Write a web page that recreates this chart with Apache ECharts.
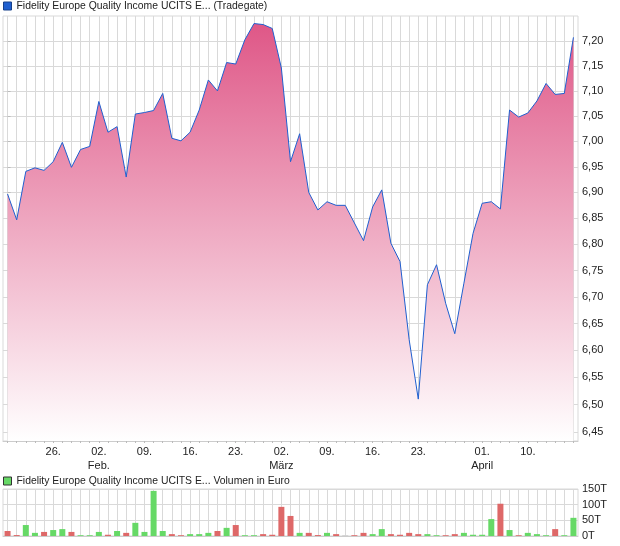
<!DOCTYPE html>
<html><head><meta charset="utf-8">
<script src="https://cdn.jsdelivr.net/npm/echarts@6/dist/echarts.min.js"></script>
<style>html,body{margin:0;padding:0;background:#fff}#c{width:620px;height:546px}</style>
</head><body><div id="c"></div>
<script>
// ---- data ----
const dates = [
 '19.01.','20.01.','21.01.','22.01.','23.01.',
 '26.01.','27.01.','28.01.','29.01.','30.01.',
 '02.02.','03.02.','04.02.','05.02.','06.02.',
 '09.02.','10.02.','11.02.','12.02.','13.02.',
 '16.02.','17.02.','18.02.','19.02.','20.02.',
 '23.02.','24.02.','25.02.','26.02.','27.02.',
 '02.03.','03.03.','04.03.','05.03.','06.03.',
 '09.03.','10.03.','11.03.','12.03.','13.03.',
 '16.03.','17.03.','18.03.','19.03.','20.03.',
 '23.03.','24.03.','25.03.','26.03.','27.03.',
 '30.03.','31.03.','01.04.','02.04.',
 '07.04.','08.04.','09.04.','10.04.',
 '13.04.','14.04.','15.04.','16.04.','17.04.'
];
const closes = [
 6.897,6.847,6.941,6.948,6.943,
 6.960,6.998,6.949,6.984,6.990,
 7.079,7.018,7.029,6.930,7.054,
 7.057,7.061,7.095,7.006,7.001,
 7.018,7.062,7.122,7.100,7.157,
 7.154,7.203,7.236,7.234,7.226,
 7.146,6.960,7.015,6.900,6.866,
 6.882,6.875,6.875,6.841,6.807,
 6.872,6.905,6.802,6.767,6.620,
 6.510,6.723,6.761,6.688,6.631,
 6.726,6.821,6.879,6.882,
 6.868,7.062,7.048,7.056,
 7.080,7.115,7.093,7.095,7.208
];
const previousClose = 6.91;
const volumes = [
 16000,3000,35000,10000,13000,
 19000,22000,13000,2500,2500,
 13000,4000,16000,10000,42000,
 13000,144000,16000,6000,2500,
 6000,6000,10000,16000,26000,
 35000,2500,2500,6000,4000,
 93000,64000,10000,10000,3000,
 10000,6000,2500,2500,10000,
 6000,22000,6000,4000,10000,
 6000,6000,2500,2500,6000,
 10000,4000,4000,54000,
 103000,19000,2500,10000,
 6000,2500,22000,2500,58000
];
const priceTicks = [6.45,6.50,6.55,6.60,6.65,6.70,6.75,6.80,6.85,6.90,6.95,7.00,7.05,7.10,7.15,7.20];
const priceMin = 6.4337, priceMax = 7.2514;
const xLabelIndex = [5,10,15,20,25,30,35,40,45,52,57];
const xLabelText = ['26.','02.\nFeb.','09.','16.','23.','02.\nMärz','09.','16.','23.','01.\nApril','10.'];
const priceName = 'Fidelity Europe Quality Income UCITS E... (Tradegate)';
const volName = 'Fidelity Europe Quality Income UCITS E... Volumen in Euro';

// ---- chart ----
const FONT = 'Liberation Sans, Arial, sans-serif';
const n = closes.length;
const allIdx = closes.map((_, i) => i);
const GREEN = '#66d966', RED = '#de6868', GRAY = '#cfcfcf';
const gridColor = '#d9d9d9';

const volData = volumes.map((v, i) => {
  const prev = i === 0 ? previousClose : closes[i - 1];
  const c = closes[i] > prev ? GREEN : (closes[i] < prev ? RED : GRAY);
  return { value: [i, v], itemStyle: { color: c } };
});

const chart = echarts.init(document.getElementById('c'), null, { renderer: 'canvas' });
const xCommon = {
  type: 'value', min: -0.5, max: n - 0.5,
  axisLine: { show: true, lineStyle: { color: '#cccccc' } },
  splitLine: { show: true, lineStyle: { color: gridColor, width: 1 } }
};
chart.setOption({
  animation: false,
  textStyle: { fontFamily: FONT },
  legend: [
    { left: 3, top: 1, padding: 0, itemWidth: 8, itemHeight: 8, icon: 'rect', selectedMode: false,
      textStyle: { fontSize: 10.4, color: '#222', fontFamily: FONT },
      data: [{ name: priceName, itemStyle: { color: '#1f5fcf', borderColor: '#17408a', borderWidth: 1 } }] },
    { left: 3, top: 476, padding: 0, itemWidth: 8, itemHeight: 8, icon: 'rect', selectedMode: false,
      textStyle: { fontSize: 10.4, color: '#222', fontFamily: FONT },
      data: [{ name: volName, itemStyle: { color: GREEN, borderColor: '#333', borderWidth: 1 } }] }
  ],
  grid: [
    { left: 3, top: 16, width: 575, height: 425, show: true, borderColor: gridColor, borderWidth: 1, containLabel: false },
    { left: 3, top: 489, width: 575, height: 47, show: true, borderColor: gridColor, borderWidth: 1, containLabel: false }
  ],
  xAxis: [
    Object.assign({}, xCommon, {
      gridIndex: 0,
      axisTick: { show: true, length: 2, lineStyle: { color: '#bbbbbb' }, customValues: allIdx },
      axisLabel: { show: true, customValues: xLabelIndex, fontSize: 11, color: '#222', lineHeight: 14, margin: 4,
        formatter: v => { const k = xLabelIndex.indexOf(Math.round(v)); return k >= 0 ? xLabelText[k] : ''; } }
    }),
    Object.assign({}, xCommon, {
      gridIndex: 1,
      axisTick: { show: false, customValues: allIdx },
      axisLabel: { show: false }
    })
  ],
  yAxis: [
    { type: 'value', gridIndex: 0, position: 'right', min: Math.log(priceMin), max: Math.log(priceMax),
      axisLine: { show: false },
      axisTick: { show: true, length: 3, lineStyle: { color: '#bbbbbb' }, customValues: priceTicks.map(Math.log) },
      axisLabel: { customValues: priceTicks.map(Math.log), fontSize: 11, color: '#222', margin: 4,
        formatter: v => Math.exp(v).toFixed(2).replace('.', ',') },
      splitLine: { show: true, lineStyle: { color: gridColor, width: 1 } } },
    { type: 'value', gridIndex: 1, position: 'right', min: 0, max: 150000, interval: 50000,
      axisLine: { show: false },
      axisTick: { show: false },
      axisLabel: { fontSize: 11, color: '#222', margin: 4, formatter: v => (v / 1000) + 'T' },
      splitLine: { show: true, lineStyle: { color: gridColor, width: 1 } } }
  ],
  series: [
    { name: priceName, type: 'line', xAxisIndex: 0, yAxisIndex: 0,
      data: closes.map((v, i) => [i, Math.log(v)]),
      symbol: 'none', silent: true,
      lineStyle: { color: '#1f5fcf', width: 1 },
      itemStyle: { color: '#1f5fcf' },
      areaStyle: { origin: 'start', opacity: 1,
        color: new echarts.graphic.LinearGradient(0, 0, 0, 1, [
          { offset: 0, color: '#df5787' }, { offset: 1, color: '#ffffff' }]) } },
    { name: volName, type: 'bar', xAxisIndex: 1, yAxisIndex: 1, barWidth: 6, silent: true,
      itemStyle: { color: GREEN },
      data: volData }
  ]
});
</script></body></html>
